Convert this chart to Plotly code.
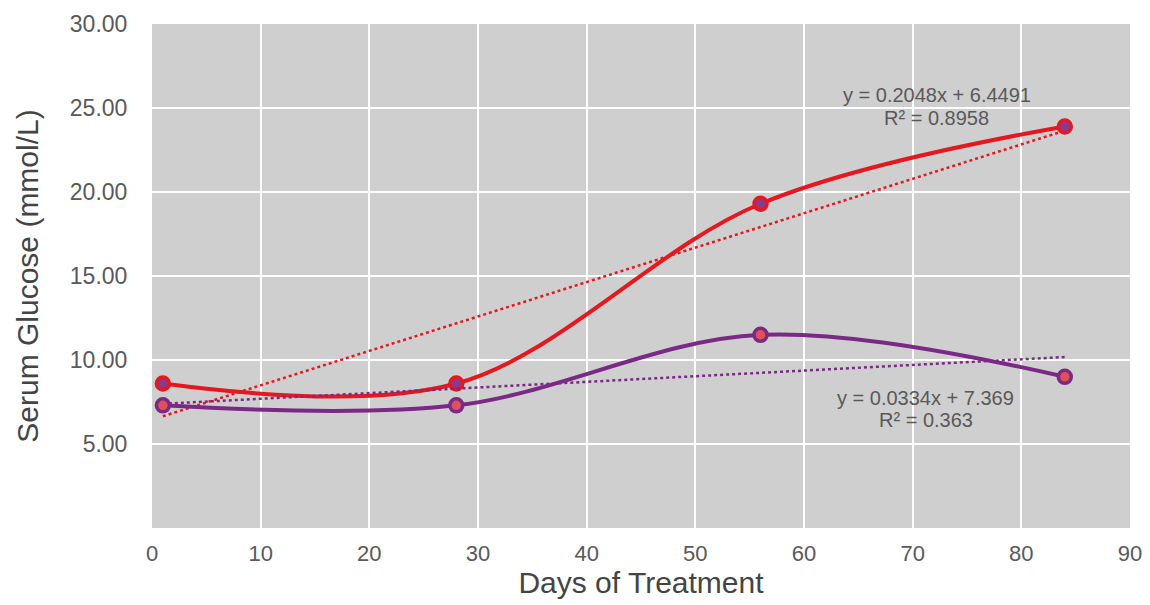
import numpy as np
import plotly.graph_objects as go

days = [1, 28, 56, 84]
red_values = [8.6, 8.6, 19.3, 23.9]
purple_values = [7.3, 7.3, 11.5, 9.0]
y_ticks = [5, 10, 15, 20, 25, 30]
y_tick_labels = ["5.00", "10.00", "15.00", "20.00", "25.00", "30.00"]
x_ticks = [0, 10, 20, 30, 40, 50, 60, 70, 80, 90]
red_eq = ["y = 0.2048x + 6.4491", "R² = 0.8958"]
purple_eq = ["y = 0.0334x + 7.369", "R² = 0.363"]

RED = "#e5171f"
PURPLE = "#7a2a84"
FONT = "Liberation Sans, Arial, sans-serif"
GREY = "#595959"

fig = go.Figure()


def fit(xs, ys):
    m, b = np.polyfit(xs, ys, 1)
    return m, b


for vals, col, fill in [(red_values, RED, "#8a3a8a"), (purple_values, PURPLE, "#e0505a")]:
    m, b = fit(days, vals)
    tx = [days[0], days[-1]]
    fig.add_trace(go.Scatter(x=tx, y=[m * t + b for t in tx], mode="lines",
                             line=dict(color=col, width=2.5, dash="dot"),
                             showlegend=False, hoverinfo="skip"))
    fig.add_trace(go.Scatter(x=days, y=vals, mode="lines+markers",
                             line=dict(color=col, width=4, shape="spline", smoothing=1),
                             marker=dict(size=13, color=fill, line=dict(color=col, width=3.5)),
                             showlegend=False))

# trendline labels (line-by-line for exact spacing)
for (xc, y1, y2), lines in [((72.2, 25.75, 24.4), red_eq), ((71.2, 7.75, 6.45), purple_eq)]:
    for yy, txt in zip((y1, y2), lines):
        fig.add_annotation(x=xc, y=yy, xref="x", yref="y", showarrow=False, text=txt,
                           font=dict(family=FONT, size=20, color=GREY))

fig.update_layout(
    width=1142, height=597,
    margin=dict(l=144, r=20, t=16, b=77),
    paper_bgcolor="white",
    plot_bgcolor="#d0cfd0",
    font=dict(family=FONT, color=GREY),
    xaxis=dict(range=[0, 90], tickvals=x_ticks, showgrid=True, gridcolor="white", gridwidth=2,
               zeroline=False, automargin=False,
               tickfont=dict(size=22, color=GREY),
               ticks="outside", ticklen=6, tickcolor="rgba(0,0,0,0)",
               title=dict(text="Days of Treatment", font=dict(size=30, color="#444444"), standoff=6)),
    yaxis=dict(range=[0, 30], tickvals=y_ticks, ticktext=y_tick_labels, showgrid=True,
               gridcolor="white", gridwidth=2, zeroline=False, automargin=False,
               tickfont=dict(size=23, color=GREY),
               ticks="outside", ticklen=19, tickcolor="rgba(0,0,0,0)",
               title=dict(text="Serum Glucose (mmol/L)", font=dict(size=30, color="#444444"), standoff=22)),
)

fig.write_html("out.html")
